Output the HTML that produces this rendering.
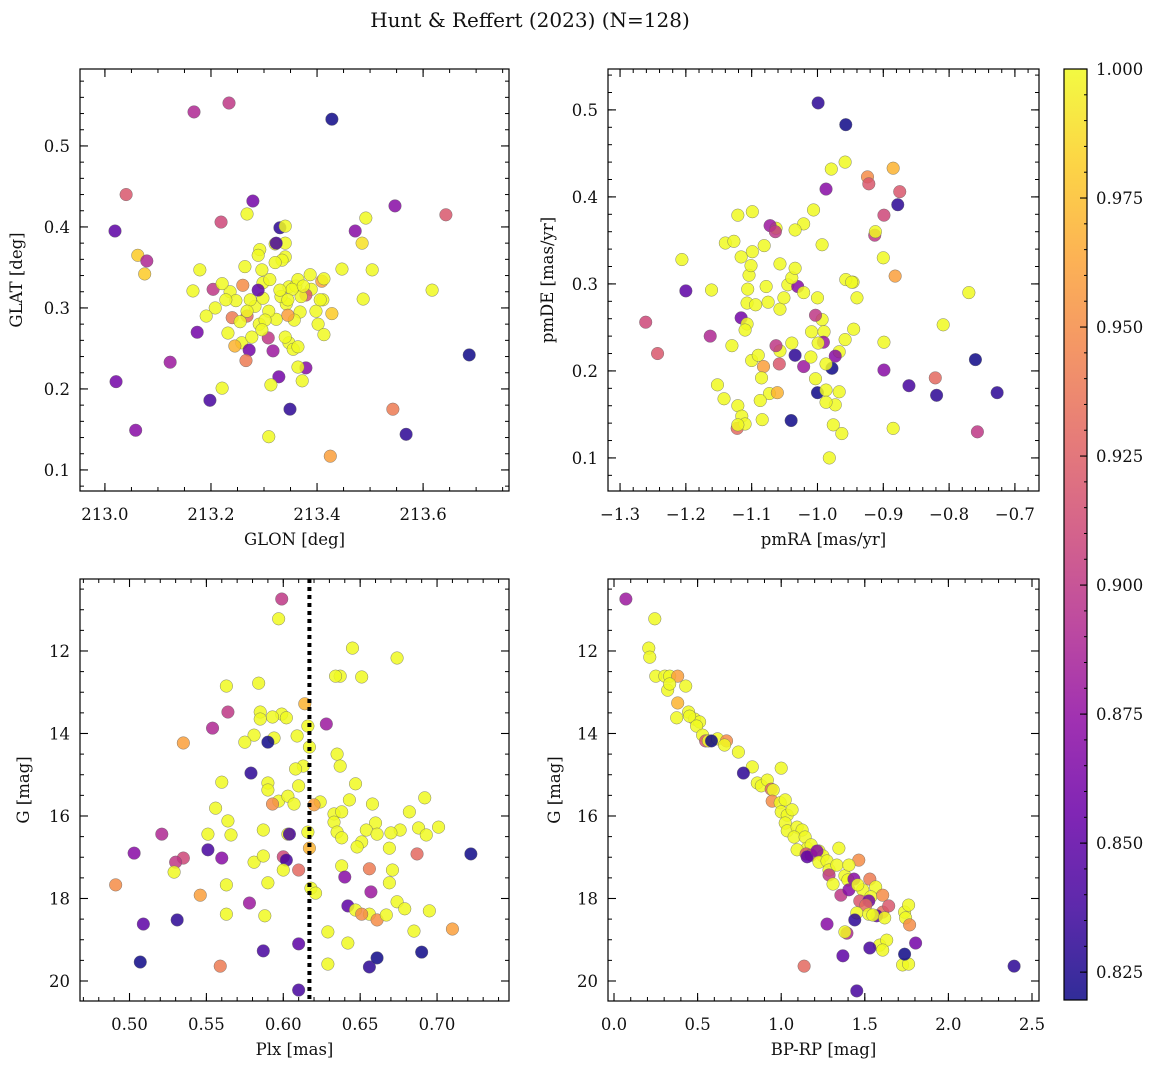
<!DOCTYPE html>
<html><head><meta charset="utf-8">
<style>
html,body{margin:0;padding:0;background:#fff;}
svg text{font-family:"DejaVu Serif","Liberation Serif",serif;fill:#111;}
</style></head>
<body>
<svg id="fig" width="1161" height="1068" viewBox="0 0 1161 1068" xmlns="http://www.w3.org/2000/svg">
<text x="530" y="27" font-size="20" text-anchor="middle">Hunt &amp; Reffert (2023) (N=128)</text>
</svg>
<script>
// ---- Panel 1 data: GLON, GLAT, membership probability ----
const glon1 = [213.168,213.234,213.428,213.040,213.019,213.062,213.079,213.075,213.219,213.279,213.330,213.340,213.268,213.472,213.492,213.547,213.643,213.485,213.447,213.409,213.340,213.292,213.289,213.264,213.296,213.321,213.166,213.204,213.179,213.236,213.208,213.247,213.240,213.232,213.258,213.272,213.277,213.291,213.308,213.317,213.328,213.313,213.347,213.340,213.355,213.372,213.349,213.309,213.266,213.245,213.221,213.174,213.123,213.198,213.021,213.058,213.402,213.413,213.379,213.364,213.411,213.428,213.487,213.543,213.568,213.425,213.687,213.617,213.504,213.389,213.379,213.368,213.357,213.342,213.332,213.323,213.309,213.302,213.296,213.283,213.274,213.268,213.255,213.260,213.228,213.221,213.191,213.298,213.347,213.360,213.370,213.340,213.323,213.334,213.364,213.353,213.374,213.387,213.345,213.398,213.364,213.268,213.298,213.311,213.321,213.330,213.345,213.289,213.406,213.413];
const glat1 = [0.542,0.553,0.533,0.440,0.395,0.365,0.358,0.342,0.406,0.432,0.399,0.401,0.416,0.395,0.411,0.426,0.415,0.380,0.348,0.333,0.380,0.372,0.365,0.351,0.347,0.379,0.321,0.323,0.347,0.320,0.300,0.309,0.288,0.269,0.257,0.248,0.264,0.280,0.263,0.247,0.215,0.205,0.257,0.264,0.249,0.210,0.175,0.141,0.235,0.253,0.201,0.270,0.233,0.186,0.209,0.149,0.280,0.267,0.226,0.227,0.310,0.293,0.311,0.175,0.144,0.117,0.242,0.322,0.347,0.323,0.316,0.295,0.285,0.305,0.314,0.286,0.296,0.285,0.273,0.302,0.310,0.290,0.283,0.328,0.310,0.330,0.290,0.312,0.326,0.327,0.314,0.363,0.380,0.359,0.335,0.323,0.327,0.341,0.291,0.296,0.252,0.296,0.331,0.335,0.356,0.322,0.310,0.322,0.310,0.336];
const prob1 = [.89,.90,.82,.92,.85,.98,.89,.98,.91,.86,.83,1,1,.87,1,.87,.92,.99,1,.96,1,1,1,1,1,1,1,.90,1,1,1,1,.94,1,1,.86,1,1,.90,.88,.86,1,1,1,1,1,.83,1,.94,.97,1,.86,.88,.84,.86,.87,1,1,.87,1,1,.98,1,.94,.83,.96,.82,1,1,1,.92,1,1,1,1,1,1,1,1,1,1,.93,1,.95,1,1,1,1,1,1,1,1,.84,1,1,1,1,1,.96,1,1,1,1,1,1,1,1,.85,1,1];

// ---- Panel 2 data: pmRA, pmDE, probability ----
const pmra2 = [-0.999,-0.957,-0.979,-0.958,-0.987,-0.924,-0.922,-0.885,-0.875,-0.878,-0.899,-0.913,-0.912,-0.900,-0.882,-0.770,-0.809,-0.946,-0.957,-0.993,-1.006,-1.021,-1.034,-1.063,-1.099,-1.121,-1.072,-1.064,-1.099,-1.081,-1.116,-1.140,-1.127,-1.206,-1.200,-1.161,-1.261,-1.243,-1.163,-1.130,-1.152,-1.142,-1.122,-1.121,-1.115,-1.110,-1.121,-1.084,-1.116,-1.107,-1.107,-1.106,-1.104,-1.101,-1.075,-1.057,-1.051,-1.045,-1.030,-1.039,-1.034,-1.021,-1.000,-0.993,-1.003,-1.009,-0.990,-0.991,-0.999,-0.967,-0.973,-0.958,-0.978,-0.987,-0.948,-0.940,-0.899,-0.899,-0.821,-0.760,-0.861,-0.819,-0.727,-0.757,-0.885,-0.945,-1.034,-1.039,-1.057,-1.058,-1.063,-1.082,-1.085,-1.073,-1.061,-1.087,-1.040,-1.000,-1.003,-0.987,-0.967,-0.973,-0.987,-0.976,-0.963,-0.982,-1.021,-1.010,-1.057,-1.110,-1.078,-1.094,-1.100,-1.090];
const pmde2 = [0.508,0.483,0.432,0.440,0.409,0.423,0.415,0.433,0.406,0.391,0.379,0.356,0.360,0.330,0.309,0.290,0.253,0.302,0.305,0.345,0.385,0.369,0.362,0.364,0.383,0.379,0.367,0.360,0.337,0.344,0.331,0.347,0.349,0.328,0.292,0.293,0.256,0.220,0.240,0.229,0.184,0.168,0.134,0.160,0.148,0.139,0.138,0.144,0.261,0.278,0.254,0.294,0.310,0.321,0.279,0.271,0.284,0.299,0.297,0.307,0.318,0.290,0.284,0.259,0.264,0.245,0.245,0.233,0.232,0.222,0.217,0.236,0.203,0.208,0.302,0.284,0.233,0.201,0.192,0.213,0.183,0.172,0.175,0.130,0.134,0.248,0.218,0.232,0.223,0.208,0.229,0.205,0.192,0.174,0.175,0.166,0.143,0.175,0.191,0.178,0.176,0.161,0.164,0.138,0.128,0.100,0.205,0.216,0.323,0.247,0.297,0.276,0.212,0.218];
const prob2 = [.83,.82,1,1,.87,.95,.92,.97,.92,.83,.91,.90,1,1,.96,1,1,1,1,1,1,1,1,1,1,1,.88,.90,1,1,1,1,1,1,.85,1,.91,.92,.89,1,1,1,.93,1,1,1,1,1,.86,1,1,1,1,1,1,1,1,1,.87,1,1,1,1,1,.90,1,1,.88,1,1,.87,1,.82,1,1,1,1,.87,.93,.82,.84,.83,.83,.90,1,1,.83,1,1,.92,.90,.96,1,1,.97,1,.82,.82,1,1,1,1,1,1,1,1,.88,1,1,1,1,1,1,1];

// ---- Panel 3 data: Plx, G, probability ----
const plx3 = [0.599,0.597,0.645,0.674,0.651,0.637,0.634,0.563,0.584,0.614,0.564,0.585,0.599,0.593,0.585,0.602,0.581,0.609,0.575,0.594,0.590,0.535,0.554,0.628,0.616,0.635,0.637,0.617,0.613,0.608,0.647,0.579,0.560,0.590,0.590,0.610,0.597,0.593,0.603,0.607,0.624,0.620,0.633,0.638,0.643,0.658,0.692,0.682,0.676,0.688,0.670,0.660,0.654,0.651,0.633,0.635,0.638,0.648,0.661,0.669,0.616,0.617,0.603,0.587,0.564,0.556,0.566,0.551,0.600,0.602,0.604,0.581,0.560,0.587,0.521,0.535,0.530,0.503,0.551,0.491,0.529,0.546,0.563,0.590,0.600,0.610,0.618,0.621,0.638,0.640,0.656,0.671,0.657,0.669,0.674,0.642,0.647,0.656,0.651,0.679,0.661,0.667,0.695,0.710,0.687,0.693,0.701,0.722,0.578,0.563,0.509,0.531,0.588,0.629,0.642,0.610,0.587,0.610,0.629,0.656,0.661,0.690,0.685,0.507,0.559];
const gmag3 = [10.74,11.22,11.93,12.17,12.63,12.61,12.61,12.85,12.78,13.28,13.48,13.48,13.53,13.60,13.65,13.62,14.04,14.06,14.21,14.11,14.21,14.23,13.87,13.77,13.82,14.50,14.79,14.33,14.79,14.86,15.22,14.96,15.18,15.20,15.37,15.27,15.64,15.71,15.52,15.71,15.66,15.73,15.95,15.90,15.61,15.71,15.56,15.90,16.34,16.29,16.41,16.17,16.34,16.63,16.15,16.39,16.53,16.75,16.44,16.78,16.39,16.78,16.44,16.34,16.12,15.81,16.46,16.44,16.99,17.07,16.44,17.12,17.02,16.97,16.44,17.02,17.12,16.90,16.82,17.67,17.36,17.92,17.67,17.62,17.31,17.31,17.75,17.87,17.21,17.48,17.28,17.31,17.84,17.62,18.08,18.18,18.28,18.38,18.38,18.25,18.52,18.40,18.30,18.74,16.92,16.46,16.27,16.92,18.11,18.38,18.62,18.52,18.42,18.81,19.08,19.10,19.27,20.22,19.59,19.66,19.44,19.30,18.79,19.54,19.64];
const prob3 = [.90,1,1,1,1,1,1,1,1,.97,.90,1,1,1,1,1,1,1,1,1,.82,.96,.89,.88,1,1,1,1,1,1,1,.83,1,1,1,1,1,.95,1,1,1,.96,1,1,1,1,1,1,1,1,1,1,1,1,1,1,1,1,1,1,1,.97,1,1,1,1,1,1,.91,.84,.84,1,.87,1,.89,.91,.90,.87,.84,.95,1,.96,1,1,1,.93,1,1,1,.87,.94,1,.88,1,1,.85,1,1,.95,1,.95,1,1,.96,.93,1,1,.82,.88,1,.85,.83,1,1,1,.85,.84,.84,1,.83,.82,.82,1,.82,.94];

// ---- Panel 4 data: BP-RP, G, probability ----
const bprp4 = [0.071,0.244,0.208,0.214,0.250,0.304,0.333,0.381,0.321,0.333,0.429,0.381,0.375,0.446,0.482,0.512,0.452,0.494,0.530,0.548,0.565,0.619,0.673,0.583,0.661,0.744,0.827,0.774,0.857,0.881,0.917,1.000,0.940,0.952,0.946,0.994,1.024,1.000,1.036,1.024,1.065,1.036,1.095,1.125,1.077,1.143,1.155,1.095,1.179,1.226,1.149,1.179,1.155,1.250,1.214,1.226,1.274,1.286,1.345,1.333,1.286,1.381,1.399,1.310,1.464,1.405,1.435,1.488,1.357,1.405,1.530,1.458,1.565,1.536,1.470,1.524,1.506,1.607,1.571,1.452,1.524,1.548,1.619,1.607,1.738,1.744,1.762,1.768,1.589,1.631,1.607,1.726,1.762,1.738,1.804,1.643,1.393,1.440,1.381,1.369,1.530,1.452,1.137,2.393,1.274];
const gmag4 = [10.74,11.22,11.93,12.15,12.61,12.61,12.61,12.61,12.95,12.80,12.85,13.26,13.62,13.48,13.65,13.72,13.58,13.82,14.04,14.18,14.18,14.13,14.18,14.18,14.28,14.45,14.81,14.96,15.20,15.27,15.13,14.84,15.35,15.37,15.64,15.68,15.61,15.90,15.98,16.17,15.85,16.36,16.27,16.34,16.51,16.51,16.78,16.82,16.70,16.85,16.92,16.95,16.99,16.97,16.85,17.12,17.09,17.31,16.78,17.19,17.43,17.45,17.55,17.65,17.07,17.19,17.53,17.79,17.92,17.79,17.53,17.67,17.72,17.96,18.06,18.06,18.16,18.33,18.42,18.35,18.38,18.40,18.47,17.92,18.33,18.47,18.16,18.64,19.13,19.01,19.25,19.61,19.59,19.35,19.08,18.18,18.84,18.52,18.81,19.39,19.20,20.24,19.64,19.64,18.62];
const prob4 = [.88,1,1,1,1,1,1,.96,1,1,1,.97,1,1,1,1,1,1,1,.92,1,1,.95,.82,1,1,1,.83,1,1,1,1,.93,1,.95,1,1,1,1,1,1,1,1,1,1,1,1,1,1,1,.92,.91,.85,1,.87,1,1,1,1,1,.90,1,1,1,.95,1,.87,1,.90,.87,.94,1,1,1,.92,.86,.93,.93,.85,1,1,1,1,.95,1,1,1,.95,1,1,1,1,1,.82,.86,.92,.89,.83,1,.85,.84,.84,.93,.83,.87];

// ---- Tick labels ----
const xTicks1 = [213.0,213.2,213.4,213.6];
const yTicks1 = [0.1,0.2,0.3,0.4,0.5];
const xTicks2 = [-1.3,-1.2,-1.1,-1.0,-0.9,-0.8,-0.7];
const yTicks2 = [0.1,0.2,0.3,0.4,0.5];
const xTicks3 = [0.50,0.55,0.60,0.65,0.70];
const yTicksG = [12,14,16,18,20];
const xTicks4 = [0.0,0.5,1.0,1.5,2.0,2.5];
const cbTicks = [0.825,0.850,0.875,0.900,0.925,0.950,0.975,1.000];
const plxRef = [0.617];

const NS = "http://www.w3.org/2000/svg";
const svg = document.getElementById('fig');
const VMIN = 0.8196, VMAX = 1.0;
const plasma = ["#0d0887","#41049d","#6a00a8","#8f0da4","#b12a90","#cc4778","#e16462","#f2844b","#fca636","#fcce25","#f0f921"];
function hex(h){return [1,3,5].map(i=>parseInt(h.substr(i,2),16));}
function cmap(v){
  let t=(v-VMIN)/(VMAX-VMIN); t=Math.max(0,Math.min(1,t));
  const s=t*10, i=Math.min(9,Math.floor(s)), f=s-i;
  const a=hex(plasma[i]), b=hex(plasma[i+1]);
  return 'rgb('+a.map((c,k)=>Math.round(c+(b[k]-c)*f)).join(',')+')';
}
function el(tag, attrs, parent){
  const e=document.createElementNS(NS,tag);
  for(const k in attrs) e.setAttribute(k,attrs[k]);
  (parent||svg).appendChild(e); return e;
}
function fmt(v,d){return (v<0?'\u2212':'')+Math.abs(v).toFixed(d);}

function panel(cfg){
  const g=el('g',{});
  
  
  const sx=v=>cfg.x0+(v-cfg.xmin)/(cfg.xmax-cfg.xmin)*(cfg.x1-cfg.x0);
  const sy=cfg.invert ? (v=>cfg.y0+(v-cfg.ymin)/(cfg.ymax-cfg.ymin)*(cfg.y1-cfg.y0))
                      : (v=>cfg.y1-(v-cfg.ymin)/(cfg.ymax-cfg.ymin)*(cfg.y1-cfg.y0));
  const pg=el('g',{},g);
  
  
  for(let i=0;i<cfg.xs.length;i++){
    const c=el('circle',{cx:sx(cfg.xs[i]),cy:sy(cfg.ys[i]),r:6.3,fill:cmap(cfg.cs[i]),'fill-opacity':0.85,stroke:'#666','stroke-width':0.4},pg);
    
    
  }
  if(cfg.vline){
    const l=el('line',{x1:sx(cfg.vline[0]),x2:sx(cfg.vline[0]),y1:cfg.y0,y2:cfg.y1,stroke:'#000','stroke-width':4,'stroke-dasharray':'4,4'},g);
    
    
  }
  const fr=el('rect',{x:cfg.x0,y:cfg.y0,width:cfg.x1-cfg.x0,height:cfg.y1-cfg.y0,fill:'none',stroke:'#000','stroke-width':1.2},g);
  
  
  const eps=1e-9;
  for(let v=Math.ceil(cfg.xmin/cfg.xminor-eps)*cfg.xminor; v<=cfg.xmax+eps; v+=cfg.xminor){
    const X=sx(v);
    el('line',{x1:X,x2:X,y1:cfg.y1,y2:cfg.y1-4,stroke:'#000','stroke-width':1},g);
    el('line',{x1:X,x2:X,y1:cfg.y0,y2:cfg.y0+4,stroke:'#000','stroke-width':1},g);
  }
  for(let v=Math.ceil(cfg.ymin/cfg.yminor-eps)*cfg.yminor; v<=cfg.ymax+eps; v+=cfg.yminor){
    const Y=sy(v);
    el('line',{x1:cfg.x0,x2:cfg.x0+4,y1:Y,y2:Y,stroke:'#000','stroke-width':1},g);
    el('line',{x1:cfg.x1,x2:cfg.x1-4,y1:Y,y2:Y,stroke:'#000','stroke-width':1},g);
  }
  cfg.xt.forEach(v=>{
    const X=sx(v);
    el('line',{x1:X,x2:X,y1:cfg.y1,y2:cfg.y1-8,stroke:'#000','stroke-width':1.1},g);
    el('line',{x1:X,x2:X,y1:cfg.y0,y2:cfg.y0+8,stroke:'#000','stroke-width':1.1},g);
    const t=el('text',{x:X,y:cfg.y1+29,'font-size':16.5,'text-anchor':'middle'},g);
    t.textContent=fmt(v,cfg.xd);
    
    
  });
  cfg.yt.forEach(v=>{
    const Y=sy(v);
    el('line',{x1:cfg.x0,x2:cfg.x0+8,y1:Y,y2:Y,stroke:'#000','stroke-width':1.1},g);
    el('line',{x1:cfg.x1,x2:cfg.x1-8,y1:Y,y2:Y,stroke:'#000','stroke-width':1.1},g);
    const t=el('text',{x:cfg.x0-10,y:Y+6,'font-size':16.5,'text-anchor':'end'},g);
    t.textContent=fmt(v,cfg.yd);
    
    
  });
  const xl=el('text',{x:(cfg.x0+cfg.x1)/2,y:cfg.y1+54,'font-size':16.5,'text-anchor':'middle'},g);
  xl.textContent=cfg.xlabel;
  
  
  const yx=cfg.ylx, yy=(cfg.y0+cfg.y1)/2;
  const yl=el('text',{x:yx,y:yy,'font-size':16.5,'text-anchor':'middle',transform:'rotate(-90 '+yx+' '+yy+')'},g);
  yl.textContent=cfg.ylabel;
  
  
}

panel({name:'glon-glat-panel',x0:80,x1:509,y0:69,y1:491,xmin:212.953,xmax:213.762,ymin:0.074,ymax:0.595,
  xs:glon1,ys:glat1,cs:prob1,xt:xTicks1,yt:yTicks1,xd:1,yd:1,xminor:0.05,yminor:0.02,xlabel:'GLON [deg]',ylabel:'GLAT [deg]',ylx:22});
panel({name:'proper-motion-panel',x0:608,x1:1039,y0:69,y1:491,xmin:-1.3183,xmax:-0.6634,ymin:0.062,ymax:0.547,
  xs:pmra2,ys:pmde2,cs:prob2,xt:xTicks2,yt:yTicks2,xd:1,yd:1,xminor:0.02,yminor:0.02,xlabel:'pmRA [mas/yr]',ylabel:'pmDE [mas/yr]',ylx:553});
panel({name:'parallax-magnitude-panel',x0:80,x1:509,y0:579,y1:1001,xmin:0.4678,xmax:0.7468,ymin:10.255,ymax:20.485,invert:true,
  xs:plx3,ys:gmag3,cs:prob3,xt:xTicks3,yt:yTicksG,xd:2,yd:0,xminor:0.01,yminor:0.5,xlabel:'Plx [mas]',ylabel:'G [mag]',ylx:29,vline:plxRef});
panel({name:'color-magnitude-panel',x0:608,x1:1039,y0:579,y1:1001,xmin:-0.0359,xmax:2.5419,ymin:10.255,ymax:20.485,invert:true,
  xs:bprp4,ys:gmag4,cs:prob4,xt:xTicks4,yt:yTicksG,xd:1,yd:0,xminor:0.1,yminor:0.5,xlabel:'BP-RP [mag]',ylabel:'G [mag]',ylx:560});

(function(){
  const cb=el('g',{});
  
  
  const X0=1064,X1=1087,Y0=69,Y1=1000;
  const defs=el('defs',{},cb);
  const lg=el('linearGradient',{id:'cbg',x1:0,y1:1,x2:0,y2:0},defs);
  plasma.forEach((c,i)=>el('stop',{offset:(i/10),'stop-color':c},lg));
  el('rect',{x:X0,y:Y0,width:X1-X0,height:Y1-Y0,fill:'url(#cbg)','fill-opacity':0.85},cb);
  el('rect',{x:X0,y:Y0,width:X1-X0,height:Y1-Y0,fill:'none',stroke:'#000','stroke-width':1.2},cb);
  const sy=v=>Y1-(v-VMIN)/(VMAX-VMIN)*(Y1-Y0);
  for(let v=0.825; v<=1.0001; v+=0.005){
    const Y=sy(v);
    el('line',{x1:X1,x2:X1-3,y1:Y,y2:Y,stroke:'#000','stroke-width':1},cb);
  }
  cbTicks.forEach(v=>{
    const Y=sy(v);
    el('line',{x1:X1,x2:X1-7,y1:Y,y2:Y,stroke:'#000','stroke-width':1.1},cb);
    const t=el('text',{x:X1+9,y:Y+6,'font-size':16.5},cb);
    t.textContent=v.toFixed(3);
    
    
  });
})();
</script>
</body></html>
